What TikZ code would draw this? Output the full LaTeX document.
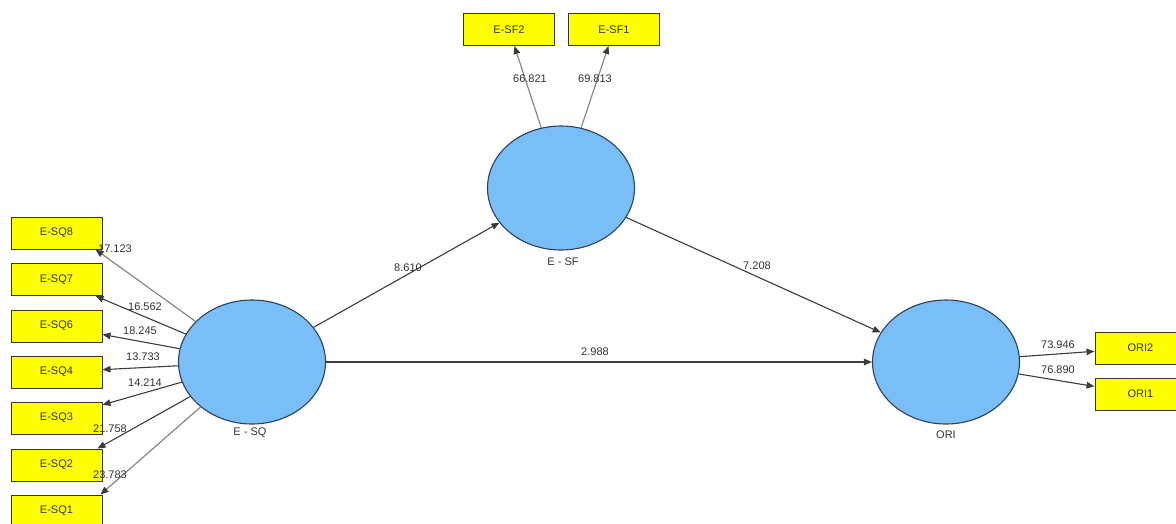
\documentclass[tikz,border=0pt]{standalone}
\usepackage{fontspec}
\setmainfont{Liberation Sans}
\usetikzlibrary{shapes.geometric,arrows.meta}
\definecolor{lvblue}{RGB}{122,190,248}
\definecolor{lvedge}{RGB}{45,65,90}
\definecolor{mvyel}{RGB}{255,255,0}
\definecolor{mvedge}{RGB}{55,55,40}
\definecolor{txtgrey}{RGB}{50,50,50}
\definecolor{lndark}{RGB}{60,60,60}
\definecolor{lnlight}{RGB}{135,135,135}
\tikzset{
  latent/.style={ellipse, draw=lvedge, line width=1.1pt, fill=lvblue, minimum width=147pt, minimum height=124pt, inner sep=0pt},
  manifest/.style={rectangle, draw=mvedge, line width=1pt, fill=mvyel, minimum width=91pt, minimum height=32pt, inner sep=0pt, font=\fontsize{11}{13}\selectfont, text=txtgrey},
  lbl/.style={inner sep=0pt, font=\fontsize{11}{13}\selectfont, text=txtgrey},
  conn/.style={draw=lndark, line width=1.1pt, -{Triangle[length=8pt,width=6.5pt]}},
  connl/.style={draw=lnlight, line width=1.2pt, -{Triangle[length=8pt,width=6.5pt,color=lndark]}}
}
\begin{document}
\begin{tikzpicture}[x=1pt,y=-1pt]
\useasboundingbox (0,0) rectangle (1176,523);
\begin{scope}
\clip (0,0) rectangle (1176,523);
% latent variables
\node[latent] (esq) at (252,362) {};
\node[latent] (esf) at (561,188) {};
\node[latent] (ori) at (946,362) {};
% indicators
\node[manifest] (esq8) at (56.5,233) {E-SQ8};
\node[manifest] (esq7) at (56.5,279.5) {E-SQ7};
\node[manifest] (esq6) at (56.5,326) {E-SQ6};
\node[manifest] (esq4) at (56.5,372) {E-SQ4};
\node[manifest] (esq3) at (56.5,418) {E-SQ3};
\node[manifest] (esq2) at (56.5,465) {E-SQ2};
\node[manifest] (esq1) at (56.5,511) {E-SQ1};
\node[manifest] (esf2) at (509,29.5) {E-SF2};
\node[manifest] (esf1) at (614,29.5) {E-SF1};
\node[manifest] (ori2) at (1140.5,348) {ORI2};
\node[manifest] (ori1) at (1140.5,394) {ORI1};
% latent names
\node[lbl] (tsq) at (250,433) {E - SQ};
\node[lbl] (tsf) at (563,262) {E - SF};
\node[lbl] (tori) at (946,435) {ORI};
% structural paths
\draw[conn] (esq) -- (esf);
\draw[conn] (esf) -- (ori);
\draw[conn] (esq) -- (ori);
% outer loadings
\draw[connl] (esq) -- ([xshift=-7pt]esq8.south east);
\draw[conn] (esq) -- (esq7);
\draw[conn] (esq) -- (esq6);
\draw[conn] (esq) -- (esq4);
\draw[conn] (esq) -- (esq3);
\draw[conn] (esq) -- ([xshift=-5pt]esq2.north east);
\draw[connl] (esq) -- ([xshift=-2pt]esq1.north east);
\draw[connl] (esf) -- (esf2);
\draw[connl] (esf) -- (esf1);
\draw[conn] (ori) -- (ori2);
\draw[conn] (ori) -- (ori1);
% values
\node[lbl] (v8) at (115,249) {17.123};
\node[lbl] (v7) at (145,307) {16.562};
\node[lbl] (v6) at (140,331) {18.245};
\node[lbl] (v4) at (143,357) {13.733};
\node[lbl] (v3) at (145,383) {14.214};
\node[lbl] (v2) at (110,429) {21.758};
\node[lbl] (v1) at (110,475) {23.783};
\node[lbl] (vf2) at (530,79) {66.821};
\node[lbl] (vf1) at (595,79) {69.813};
\node[lbl] (vsqsf) at (408,268) {8.610};
\node[lbl] (vsfori) at (757,266) {7.208};
\node[lbl] (vsqori) at (595,352) {2.988};
\node[lbl] (vo2) at (1058,345) {73.946};
\node[lbl] (vo1) at (1058,370) {76.890};
\end{scope}
\end{tikzpicture}
\end{document}
